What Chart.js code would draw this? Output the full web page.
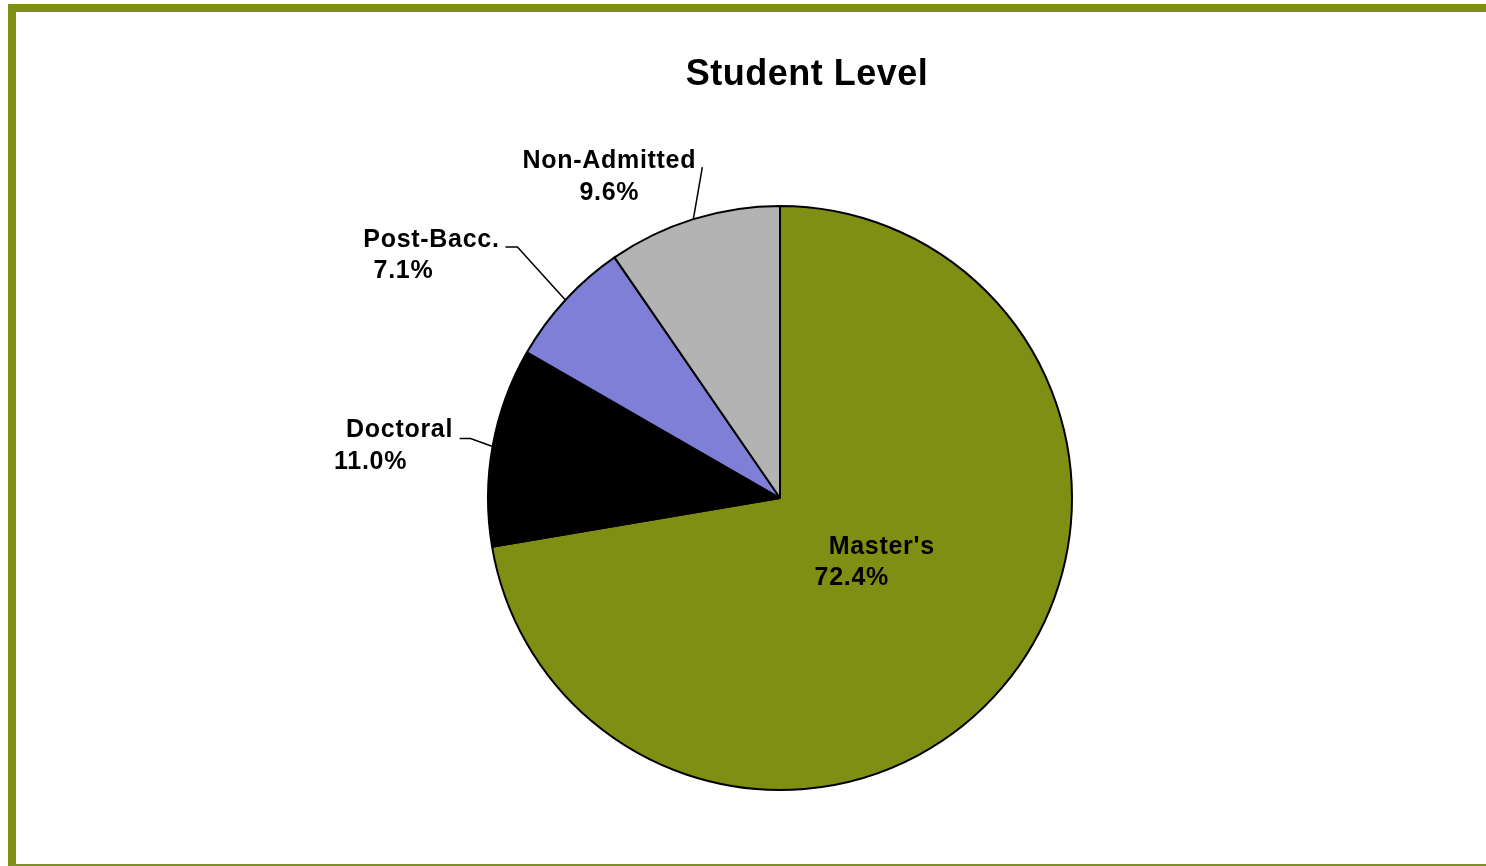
<!DOCTYPE html>
<html>
<head>
<meta charset="utf-8">
<title>Student Level</title>
<script src="https://cdn.jsdelivr.net/npm/chart.js@4.4.0/dist/chart.umd.min.js"></script>
<style>
    html, body { margin: 0; padding: 0; background: #ffffff; overflow: hidden; }
    #frame {
        position: absolute;
        left: 8px; top: 4px;
        width: 2000px; height: 852px;
        border-left: 8px solid #7f8f14;
        border-top: 8px solid #7f8f14;
        border-bottom: 2px solid #7f8f2a;
    }
    #wrap { position: absolute; left: 0; top: 0; width: 1486px; height: 866px; }
</style>
</head>
<body>
<div id="frame"></div>
<div id="wrap"><canvas id="levelChart"></canvas></div>
<script>
const chartTitle = 'Student Level';
const levels = ["Master's", 'Doctoral', 'Post-Bacc.', 'Non-Admitted'];
const shares = [72.4, 11.0, 7.1, 9.6];
const sliceColors = ['#7f8f14', '#000000', '#7f7fd8', '#b3b3b3'];

const labelFont = 'bold 25px "Liberation Sans", Arial, sans-serif';

// Where each label sits, relative to the point on the rim at the slice's middle angle
// lines: [text dx, baseline dy] for each line; leader: points after the rim point
const labelPlacement = [
    { inside: true, lines: [[17, -16], [-13, 15]], leader: [] },
    { lines: [[-93, -9], [-122, 23]], leader: [[-22, -8], [-33, -8]] },
    { lines: [[-134, -53], [-162, -22]], leader: [[-48, -53], [-60, -53]] },
    { lines: [[-84, -51], [-84, -19]], leader: [[9, -52]] }
];

const pieLabels = {
    id: 'pieLabels',
    afterDatasetsDraw(chart) {
        const ctx = chart.ctx;
        const arcs = chart.getDatasetMeta(0).data;
        ctx.save();
        // title
        ctx.fillStyle = '#000000';
        ctx.font = 'bold 36px "Liberation Sans", Arial, sans-serif';
        ctx.letterSpacing = '0.5px';
        ctx.textAlign = 'center';
        ctx.textBaseline = 'alphabetic';
        ctx.fillText(chartTitle, 807, 85);

        ctx.font = labelFont;
        ctx.letterSpacing = '0.7px';
        arcs.forEach((arc, i) => {
            const p = arc.getProps(['x', 'y', 'startAngle', 'endAngle', 'outerRadius'], true);
            const mid = (p.startAngle + p.endAngle) / 2;
            const place = labelPlacement[i];
            const r = place.inside ? p.outerRadius * 0.38 : p.outerRadius;
            const ax = p.x + Math.cos(mid) * r;
            const ay = p.y + Math.sin(mid) * r;

            if (place.leader.length) {
                ctx.strokeStyle = '#000000';
                ctx.lineWidth = 1.5;
                ctx.beginPath();
                ctx.moveTo(ax, ay);
                place.leader.forEach(pt => ctx.lineTo(ax + pt[0], ay + pt[1]));
                ctx.stroke();
            }

            const texts = [levels[i], shares[i].toFixed(1) + '%'];
            ctx.fillStyle = '#000000';
            texts.forEach((t, k) => {
                ctx.fillText(t, ax + place.lines[k][0], ay + place.lines[k][1]);
            });
        });
        ctx.restore();
    }
};

new Chart(document.getElementById('levelChart'), {
    type: 'pie',
    data: {
        labels: levels,
        datasets: [{
            data: shares,
            backgroundColor: sliceColors,
            borderColor: '#000000',
            borderWidth: 2
        }]
    },
    options: {
        responsive: true,
        maintainAspectRatio: false,
        animation: false,
        layout: {
            padding: { top: 205, bottom: 75, left: 74, right: 0 }
        },
        plugins: {
            legend: { display: false },
            title: { display: false },
            tooltip: { enabled: false }
        }
    },
    plugins: [pieLabels]
});
</script>
</body>
</html>
